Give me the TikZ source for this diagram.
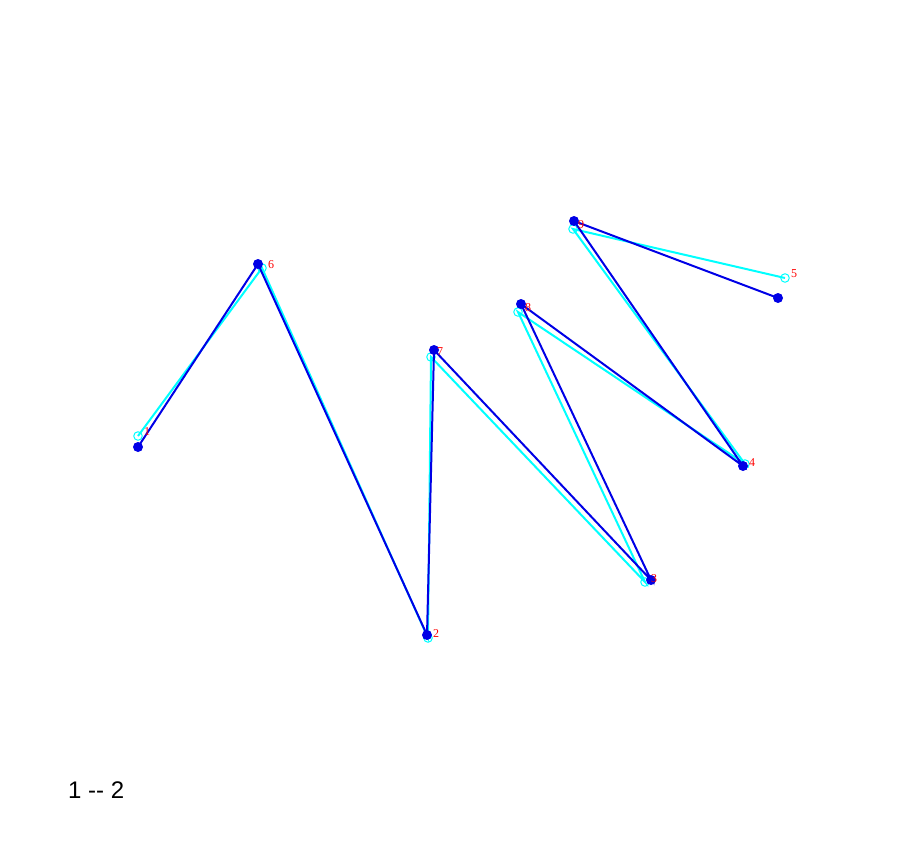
\documentclass[tikz,border=0pt]{standalone}
\usepackage{fontspec}
\setmainfont{Liberation Serif}
\newfontfamily\labsans{Liberation Sans}
\definecolor{cyanrgb}{RGB}{0,255,255}
\definecolor{bluergb}{RGB}{0,0,230}
\begin{document}
\begin{tikzpicture}[x=1pt,y=-1pt,
  bline/.style={draw=bluergb,line width=2pt},
  cline/.style={draw=cyanrgb,line width=2pt},
  bdot/.style={circle,fill=bluergb,inner sep=0pt,minimum size=10pt},
  cdot/.style={circle,draw=cyanrgb,line width=1pt,inner sep=0pt,minimum size=8.5pt},
  lab/.style={text=red,font=\fontsize{12}{12}\selectfont,inner sep=0pt,anchor=west}]
\useasboundingbox (0,0) rectangle (924,867);
% cyan path
\node[cdot] (c1) at (138,436) {};
\node[cdot] (c6) at (262,268) {};
\node[cdot] (c2) at (428,638) {};
\node[cdot] (c7) at (431,357) {};
\node[cdot] (c3) at (645,582) {};
\node[cdot] (c8) at (518,312) {};
\node[cdot] (c4) at (745,464) {};
\node[cdot] (c9) at (573,229) {};
\node[cdot] (c5) at (785,278) {};
\draw[cline] (c1.center) -- (c6.center) -- (c2.center) -- (c7.center) -- (c3.center) -- (c8.center) -- (c4.center) -- (c9.center) -- (c5.center);
% blue path
\coordinate (b1) at (138,447);
\coordinate (b6) at (258,264);
\coordinate (b2) at (427,635);
\coordinate (b7) at (434,350);
\coordinate (b3) at (651,580);
\coordinate (b8) at (521,304);
\coordinate (b4) at (743,466);
\coordinate (b9) at (574,221);
\coordinate (b5) at (778,298);
\draw[bline] (b1) -- (b6) -- (b2) -- (b7) -- (b3) -- (b8) -- (b4) -- (b9) -- (b5);
\foreach \p in {b1,b6,b2,b7,b3,b8,b4,b9,b5} \node[bdot] at (\p) {};
% labels
\node[lab] (l1) at (144,432) {1};
\node[lab] (l6) at (268,265) {6};
\node[lab] (l7) at (437,352) {7};
\node[lab] (l8) at (525,308) {8};
\node[lab] (l9) at (578,225) {9};
\node[lab] (l5) at (791,274) {5};
\node[lab] (l4) at (749,463) {4};
\node[lab] (l3) at (651,579) {3};
\node[lab] (l2) at (433,634) {2};
\node[anchor=west,inner sep=0pt,font=\labsans\fontsize{24}{24}\selectfont] (t) at (68,790) {1 -- 2};
\end{tikzpicture}
\end{document}
